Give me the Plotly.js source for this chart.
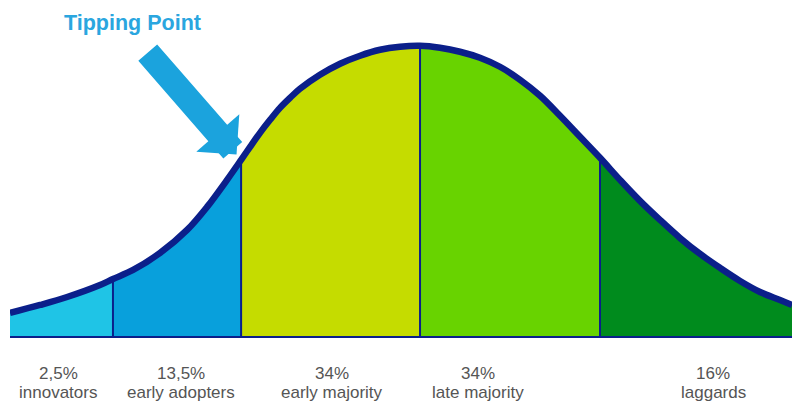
<!DOCTYPE html>
<html>
<head>
<meta charset="utf-8">
<script src="https://cdn.plot.ly/plotly-3.0.1.min.js"></script>
<style>html,body{margin:0;padding:0;background:#fff;}#chart{width:792px;height:403px;}</style>
</head>
<body>
<div id="chart"></div>
<script>
// Adoption curve: x in standard deviations from the mean, y = curve height
const curveX = [-2.278, -2.111, -1.961, -1.778, -1.706, -1.594, -1.444, -1.294, -1.183, -1.072, -0.994, -0.944, -0.889, -0.833, -0.778, -0.722, -0.667, -0.556, -0.444, -0.333, -0.222, -0.111, 0.000, 0.111, 0.222, 0.333, 0.444, 0.556, 0.667, 0.778, 0.889, 1.000, 1.111, 1.222, 1.333, 1.444, 1.556, 1.667, 1.778, 1.889, 2.000, 2.067];
const curveY = [0.0317, 0.0427, 0.0537, 0.0702, 0.0785, 0.0909, 0.1143, 0.1460, 0.1777, 0.2149, 0.2424, 0.2603, 0.2796, 0.2975, 0.3140, 0.3278, 0.3402, 0.3595, 0.3747, 0.3857, 0.3939, 0.3981, 0.3994, 0.3967, 0.3912, 0.3829, 0.3705, 0.3526, 0.3306, 0.3030, 0.2741, 0.2452, 0.2149, 0.1860, 0.1598, 0.1350, 0.1129, 0.0937, 0.0758, 0.0606, 0.0496, 0.0427];

// Segment boundaries (values of curveX) and categories
const boundaries = [-2.278, -1.706, -0.994, 0.000, 1.000, 2.067];
const categories = ['innovators', 'early adopters', 'early majority', 'late majority', 'laggards'];
const shares = ['2,5%', '13,5%', '34%', '34%', '16%'];
const labelX = [-2.011, -1.328, -0.489, 0.322, 1.628];
const segColors = ['#1fc4e6', '#08a0dc', '#c5dc00', '#68d300', '#008b1d'];
const tipping = {label: 'Tipping Point', x: -0.994};

const navy = '#0b1f8a';
const font = 'Liberation Sans, Arial, sans-serif';
const traces = [];
for (let s = 0; s < categories.length; s++) {
  const xs = [], ys = [];
  for (let i = 0; i < curveX.length; i++) {
    if (curveX[i] >= boundaries[s] - 1e-9 && curveX[i] <= boundaries[s + 1] + 1e-9) {
      xs.push(curveX[i]); ys.push(curveY[i]);
    }
  }
  traces.push({x: xs, y: ys, type: 'scatter', mode: 'lines', fill: 'tozeroy',
    fillcolor: segColors[s], line: {width: 0, color: segColors[s], shape: 'spline', smoothing: 1},
    hoverinfo: 'skip', name: categories[s]});
}
// divider lines
for (let s = 1; s < boundaries.length - 1; s++) {
  const idx = curveX.findIndex(v => Math.abs(v - boundaries[s]) < 1e-9);
  traces.push({x: [curveX[idx], curveX[idx]], y: [0, curveY[idx]], type: 'scatter', mode: 'lines',
    line: {color: navy, width: 2}, hoverinfo: 'skip'});
}
// thick curve
traces.push({x: curveX, y: curveY, type: 'scatter', mode: 'lines',
  line: {color: navy, width: 6.5, shape: 'spline', smoothing: 1}, hoverinfo: 'skip'});

const annotations = [];
for (let s = 0; s < categories.length; s++) {
  annotations.push({x: labelX[s], y: 0, xref: 'x', yref: 'y', yanchor: 'middle', yshift: -37.5,
    text: shares[s], showarrow: false, font: {family: font, size: 17, color: '#555555'}});
  annotations.push({x: labelX[s], y: 0, xref: 'x', yref: 'y', yanchor: 'middle', yshift: -56.5,
    text: categories[s], showarrow: false, font: {family: font, size: 17, color: '#555555'}});
}
const tipIdx = curveX.findIndex(v => Math.abs(v - tipping.x) < 1e-9);
annotations.push({x: tipping.x, y: curveY[tipIdx], xref: 'x', yref: 'y', axref: 'x', ayref: 'y',
  ax: -1.52, ay: 0.392, text: '', showarrow: true, arrowhead: 1, arrowsize: 0.38, arrowwidth: 25,
  arrowcolor: '#1ba3dd', standoff: 7});
annotations.push({x: -1.99, y: 0.431, xref: 'x', yref: 'y', xanchor: 'left', text: '<b>' + tipping.label + '</b>', showarrow: false,
  font: {family: font, size: 21.5, color: '#2aa6df'}});

const layout = {
  width: 792, height: 403,
  margin: {l: 10, r: 0, t: 9, b: 67},
  paper_bgcolor: '#ffffff', plot_bgcolor: '#ffffff',
  showlegend: false,
  xaxis: {range: [-2.278, 2.0666], showgrid: false, zeroline: false, showticklabels: false, ticks: '',
    showline: true, linecolor: navy, linewidth: 2, fixedrange: true},
  yaxis: {range: [0, 0.45], showgrid: false, zeroline: false, showticklabels: false, ticks: '', fixedrange: true},
  annotations: annotations
};
Plotly.newPlot('chart', traces, layout, {staticPlot: true, displayModeBar: false});
</script>
</body>
</html>
